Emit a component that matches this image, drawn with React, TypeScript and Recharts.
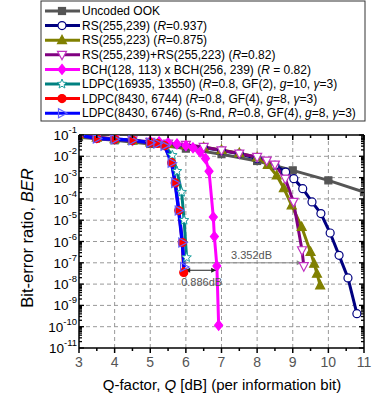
import React from 'react'
import { LineChart, Line, XAxis, YAxis, ReferenceLine } from 'recharts'

// BER curves, x = Q-factor [dB], y = log10(BER)
const uncodedQ = [3, 4, 5, 6, 7, 8, 9, 10, 11]
const uncodedLog = [-1.1, -1.25, -1.42, -1.64, -1.9, -2.22, -2.66, -3.13, -3.68]

const rs239Q = [3, 3.5, 4, 4.5, 5, 5.5, 6, 6.5, 7, 7.5, 8, 8.5, 8.8, 9.03, 9.28, 9.54, 9.79, 10.05, 10.3, 10.55, 10.8]
const rs239Log = [-1.0, -1.12, -1.2, -1.27, -1.35, -1.42, -1.5, -1.6, -1.73, -1.88, -2.1, -2.42, -2.74, -3.05, -3.52, -4.14, -4.69, -5.6, -6.65, -7.71, -9.39]

const rs223Q = [3, 3.5, 4, 4.5, 5, 5.5, 6, 6.5, 7, 7.5, 8, 8.3, 8.55, 8.75, 8.97, 9.25, 9.5, 9.6, 9.68, 9.77]
const rs223Log = [-1.0, -1.12, -1.2, -1.27, -1.35, -1.42, -1.48, -1.58, -1.7, -1.85, -2.05, -2.4, -2.9, -3.5, -4.3, -5.32, -6.49, -7.04, -7.51, -8.06]

const rsConcQ = [3, 3.5, 4, 4.5, 5, 5.5, 6, 6.5, 7, 7.5, 8, 8.27, 8.5, 8.79, 9.02, 9.26, 9.31]
const rsConcLog = [-1.0, -1.1, -1.18, -1.25, -1.32, -1.4, -1.46, -1.56, -1.72, -1.87, -2.03, -2.2, -2.39, -3.05, -4.14, -6.41, -7.16]

const bchQ = [5, 5.25, 5.5, 5.75, 6, 6.2, 6.4, 6.55, 6.65, 6.77, 6.8, 6.87, 6.92]
const bchLog = [-1.3, -1.32, -1.36, -1.42, -1.5, -1.6, -1.8, -2.1, -2.7, -4.85, -5.77, -7.15, -9.93]

const ldpcGf2Q = [3, 3.5, 4, 4.5, 5, 5.2, 5.4, 5.62, 5.75, 5.88, 5.95, 6.02]
const ldpcGf2Log = [-1.0, -1.17, -1.2, -1.25, -1.36, -1.4, -1.5, -1.95, -2.7, -3.68, -5.0, -6.75]

const ldpcGf4Q = [3, 3.5, 4, 4.5, 5, 5.2, 5.4, 5.6, 5.7, 5.8, 5.9, 5.94]
const ldpcGf4Log = [-1.0, -1.17, -1.2, -1.25, -1.36, -1.4, -1.5, -2.3, -3.25, -4.55, -6.05, -7.45]

const ldpcRndQ = [3, 3.5, 4, 4.5, 5, 5.2, 5.4, 5.6, 5.7, 5.8, 5.9, 5.95]
const ldpcRndLog = [-1.0, -1.17, -1.2, -1.25, -1.36, -1.4, -1.5, -2.3, -3.25, -4.55, -6.05, -7.2]

const xTicks = [3, 3.5, 4, 4.5, 5, 5.5, 6, 6.5, 7, 7.5, 8, 8.5, 9, 9.5, 10, 10.5, 11]
const xGrid = [4, 5, 6, 7, 8, 9, 10]
const decades = [-11, -10, -9, -8, -7, -6, -5, -4, -3, -2, -1]

// annotations: [q from, q to, log10 BER, label]
const gapLong = [5.93, 9.25, -7, '3.352dB'] as const
const gapShort = [5.98, 6.85, -7.35, '0.886dB'] as const

const FONT = 'Arial, "Liberation Sans", sans-serif'
const PW = 285
const PH = 213

const toRows = (q: number[], lg: number[]) => q.map((x, i) => ({ x, ber: Math.pow(10, lg[i]) }))

const yTicks: number[] = []
decades.forEach((d) => {
  yTicks.push(Math.pow(10, d))
  if (d < -1) for (let m = 2; m <= 9; m++) yTicks.push(m * Math.pow(10, d))
})

type Shape = 'square' | 'circle' | 'triUp' | 'triDown' | 'diamond' | 'star' | 'triRight'

function Marker({ shape, cx, cy, color, fill }: { shape: Shape; cx: number; cy: number; color: string; fill: string }) {
  const sw = 1.2
  switch (shape) {
    case 'square':
      return <rect x={cx - 3.5} y={cy - 3.5} width={7} height={7} fill={fill} stroke={color} strokeWidth={sw} />
    case 'circle':
      return <circle cx={cx} cy={cy} r={4} fill={fill} stroke={color} strokeWidth={sw} />
    case 'triUp':
      return <polygon points={`${cx},${cy - 5} ${cx - 4.5},${cy + 3.5} ${cx + 4.5},${cy + 3.5}`} fill={fill} stroke={color} strokeWidth={sw} />
    case 'triDown':
      return <polygon points={`${cx},${cy + 5} ${cx - 4.5},${cy - 3.5} ${cx + 4.5},${cy - 3.5}`} fill={fill} stroke={color} strokeWidth={sw} />
    case 'triRight':
      return <polygon points={`${cx + 5},${cy} ${cx - 3.5},${cy - 4.5} ${cx - 3.5},${cy + 4.5}`} fill={fill} stroke={color} strokeWidth={sw} />
    case 'diamond':
      return <polygon points={`${cx},${cy - 5} ${cx + 4},${cy} ${cx},${cy + 5} ${cx - 4},${cy}`} fill={fill} stroke={color} strokeWidth={sw} />
    case 'star': {
      const pts: string[] = []
      for (let i = 0; i < 10; i++) {
        const r = i % 2 === 0 ? 5 : 2.2
        const a = -Math.PI / 2 + (i * Math.PI) / 5
        pts.push(`${cx + r * Math.cos(a)},${cy + r * Math.sin(a)}`)
      }
      return <polygon points={pts.join(' ')} fill={fill} stroke={color} strokeWidth={1} />
    }
  }
  return null
}

const series = [
  { name: 'uncoded', rows: toRows(uncodedQ, uncodedLog), color: '#555555', shape: 'square' as Shape, fill: '#555555', mk: '#555555', w: 3 },
  { name: 'rs239', rows: toRows(rs239Q, rs239Log), color: '#000080', shape: 'circle' as Shape, fill: '#ffffff', mk: '#000080', w: 3 },
  { name: 'rs223', rows: toRows(rs223Q, rs223Log), color: '#808000', shape: 'triUp' as Shape, fill: '#808000', mk: '#808000', w: 3 },
  { name: 'rsconc', rows: toRows(rsConcQ, rsConcLog), color: '#800080', shape: 'triDown' as Shape, fill: '#ffffff', mk: '#c030c0', w: 3 },
  { name: 'bch', rows: toRows(bchQ, bchLog), color: '#ff00ff', shape: 'diamond' as Shape, fill: '#ff00ff', mk: '#ff00ff', w: 3 },
  { name: 'ldpc2', rows: toRows(ldpcGf2Q, ldpcGf2Log), color: '#008080', shape: 'star' as Shape, fill: '#ffffff', mk: '#20a0a0', w: 3 },
  { name: 'ldpc4', rows: toRows(ldpcGf4Q, ldpcGf4Log), color: '#ff0000', shape: 'circle' as Shape, fill: '#ff0000', mk: '#ff0000', w: 3 },
  { name: 'ldpcRnd', rows: toRows(ldpcRndQ, ldpcRndLog), color: '#0000ff', shape: 'triRight' as Shape, fill: 'none', mk: '#6060ff', w: 3.5 },
]

type Seg = [string, boolean]
const legendLabels: Seg[][] = [
  [['Uncoded OOK', false]],
  [['RS(255,239) (', false], ['R', true], ['=0.937)', false]],
  [['RS(255,223) (', false], ['R', true], ['=0.875)', false]],
  [['RS(255,239)+RS(255,223) (', false], ['R', true], ['=0.82)', false]],
  [['BCH(128, 113) x BCH(256, 239) (', false], ['R', true], [' = 0.82)', false]],
  [['LDPC(16935, 13550) (', false], ['R', true], ['=0.8, GF(2), ', false], ['g', true], ['=10, ', false], ['γ', true], ['=3)', false]],
  [['LDPC(8430, 6744) (', false], ['R', true], ['=0.8, GF(4), ', false], ['g', true], ['=8, ', false], ['γ', true], ['=3)', false]],
  [['LDPC(8430, 6746) (s-Rnd, ', false], ['R', true], ['=0.8, GF(4), ', false], ['g', true], ['=8, ', false], ['γ', true], ['=3)', false]],
]

function XTick(props: any) {
  const { x, y, payload } = props
  const v = payload.value
  const major = Math.abs(v - Math.round(v)) < 1e-6
  const len = major ? 5 : 3
  return (
    <g>
      <line x1={x} x2={x} y1={y} y2={y + len} stroke="#000" strokeWidth={1.5} />
      <line x1={x} x2={x} y1={y - PH} y2={y - PH + len} stroke="#000" strokeWidth={1.5} />
      {major && (
        <text x={x} y={y + 19} textAnchor="middle" fontSize={14} fill="#555" fontFamily={FONT}>
          {v}
        </text>
      )}
    </g>
  )
}

function YTick(props: any) {
  const { x, y, payload } = props
  const lg = Math.log10(payload.value)
  const major = Math.abs(lg - Math.round(lg)) < 1e-6
  const len = major ? 5 : 3
  return (
    <g>
      <line x1={x} x2={x + len} y1={y} y2={y} stroke="#000" strokeWidth={1.3} />
      <line x1={x + PW - len} x2={x + PW} y1={y} y2={y} stroke="#000" strokeWidth={1.3} />
      {major && (
        <text x={x - 2} y={y + 5} textAnchor="end" fontSize={13.5} fill="#000" fontFamily={FONT}>
          <tspan>10</tspan>
          <tspan dy={-7} fontSize={9.5}>{`-${Math.abs(Math.round(lg))}`}</tspan>
        </text>
      )}
    </g>
  )
}

function gapShape(label: string, color: string, both: boolean, dx: number, dy: number) {
  return (p: any) => {
    const { x1, x2, y1 } = p
    const a = 5
    return (
      <g>
        <line x1={x1} x2={x2} y1={y1} y2={y1} stroke={color} strokeWidth={1} />
        <polygon points={`${x2},${y1} ${x2 - a},${y1 - 2.5} ${x2 - a},${y1 + 2.5}`} fill={color} />
        {both && <polygon points={`${x1},${y1} ${x1 + a},${y1 - 2.5} ${x1 + a},${y1 + 2.5}`} fill={color} />}
        <text x={(x1 + x2) / 2 + dx} y={y1 + dy} textAnchor="middle" fontSize={11} fill="#555" fontFamily={FONT}>
          {label}
        </text>
      </g>
    )
  }
}

export default function App() {
  return (
    <div style={{ position: 'absolute', left: 0, top: 0, width: 380, height: 398, background: '#fff' }}>
      <LineChart width={380} height={398} margin={{ top: 135, right: 16, bottom: 49, left: 78 }}>
        <XAxis
          type="number"
          dataKey="x"
          domain={[3, 11]}
          allowDataOverflow
          ticks={xTicks}
          interval={0}
          height={1}
          tickSize={0}
          tickMargin={0}
          tickLine={false}
          axisLine={{ stroke: '#000', strokeWidth: 1.5 }}
          tick={<XTick />}
        />
        <YAxis
          type="number"
          dataKey="ber"
          scale="log"
          domain={[1e-11, 1e-1]}
          allowDataOverflow
          ticks={yTicks}
          interval={0}
          width={1}
          tickSize={0}
          tickMargin={0}
          tickLine={false}
          axisLine={{ stroke: '#000', strokeWidth: 1.5 }}
          tick={<YTick />}
        />
        {xGrid.map((v) => (
          <ReferenceLine key={`gx${v}`} x={v} stroke="#999" strokeDasharray="4 3" />
        ))}
        {decades.slice(1, -1).map((d) => (
          <ReferenceLine key={`gy${d}`} y={Math.pow(10, d)} stroke="#999" strokeDasharray="4 3" />
        ))}
        <ReferenceLine x={11} stroke="#000" strokeWidth={1.5} />
        <ReferenceLine y={1e-1} stroke="#000" strokeWidth={1.5} />
        {series.map((s) => (
          <Line
            key={s.name}
            data={s.rows}
            dataKey="ber"
            type="linear"
            stroke={s.color}
            strokeWidth={s.w}
            isAnimationActive={false}
            dot={(p: any) => (
              <Marker key={`${s.name}${p.index}`} shape={s.shape} cx={p.cx} cy={p.cy} color={s.mk} fill={s.fill} />
            )}
            activeDot={false}
          />
        ))}
        <ReferenceLine
          segment={[
            { x: gapLong[0], y: Math.pow(10, gapLong[2]) },
            { x: gapLong[1], y: Math.pow(10, gapLong[2]) },
          ]}
          shape={gapShape(gapLong[3], '#888', false, 9, -4)}
        />
        <ReferenceLine
          segment={[
            { x: gapShort[0], y: Math.pow(10, gapShort[2]) },
            { x: gapShort[1], y: Math.pow(10, gapShort[2]) },
          ]}
          shape={gapShape(gapShort[3], '#222', true, 1, 16)}
        />
      </LineChart>
      <svg width={380} height={398} style={{ position: 'absolute', left: 0, top: 0, pointerEvents: 'none' }}>
        <rect x={41} y={1} width={324} height={120} fill="#fff" stroke="#333" strokeWidth={1} />
        {legendLabels.map((segs, i) => {
          const s = series[i]
          const cy = 11 + i * 14.6
          return (
            <g key={i}>
              <line x1={45} x2={80} y1={cy} y2={cy} stroke={s.color} strokeWidth={3} />
              <Marker shape={s.shape} cx={62} cy={cy} color={s.mk} fill={s.fill} />
              <text x={82} y={cy + 4.2} fontSize={12} fontFamily={FONT} fill="#000">
                {segs.map(([t, it], j) => (
                  <tspan key={j} fontStyle={it ? 'italic' : 'normal'}>
                    {t}
                  </tspan>
                ))}
              </text>
            </g>
          )
        })}
        <text x={222} y={390} textAnchor="middle" fontSize={15} fontFamily={FONT} fill="#000">
          <tspan>Q-factor, </tspan>
          <tspan fontStyle="italic">Q</tspan>
          <tspan> [dB] (per information bit)</tspan>
        </text>
        <text
          transform="translate(33,238) rotate(-90)"
          textAnchor="middle"
          fontSize={16.5}
          fontFamily={FONT}
          fill="#000"
        >
          <tspan>Bit-error ratio, </tspan>
          <tspan fontStyle="italic">BER</tspan>
        </text>
      </svg>
    </div>
  )
}
